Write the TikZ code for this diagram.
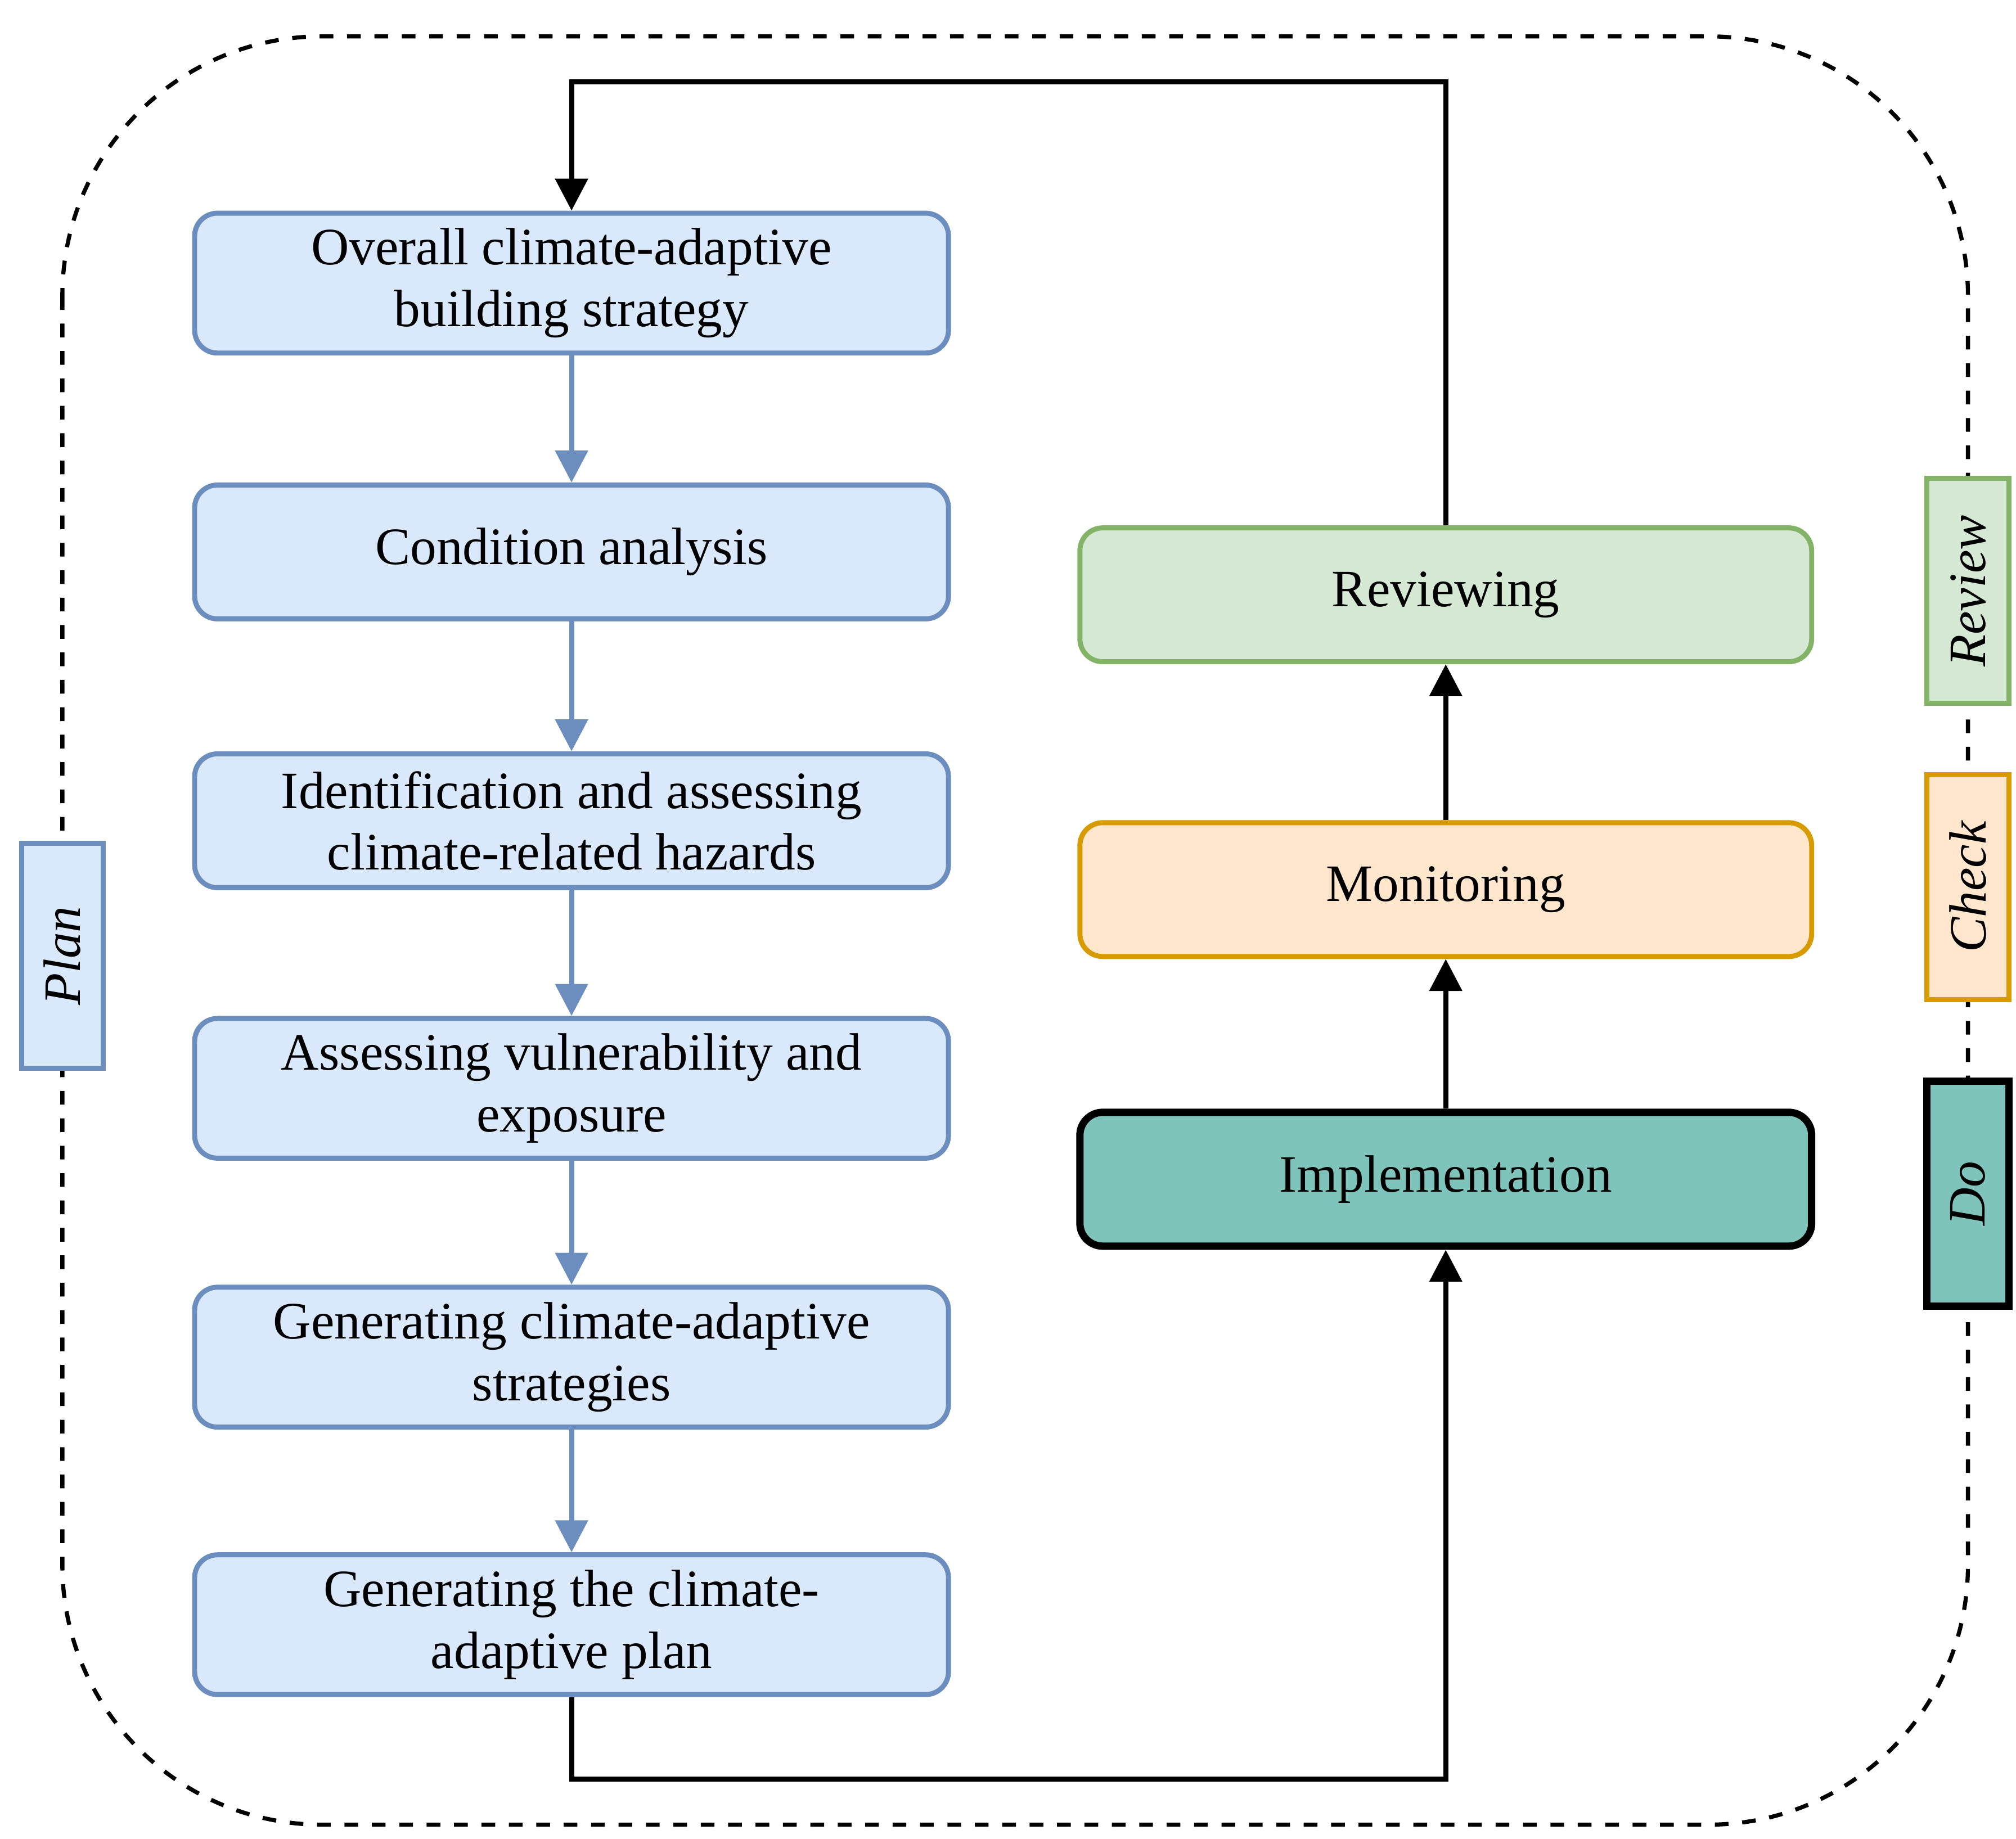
\documentclass[tikz,border=0pt]{standalone}
\usepackage{fontspec}
\setmainfont{Liberation Serif}
\usetikzlibrary{arrows.meta}
\definecolor{bfill}{HTML}{DAE8FC}\definecolor{bline}{HTML}{6C8EBF}
\definecolor{gfill}{HTML}{D5E8D4}\definecolor{gline}{HTML}{82B366}
\definecolor{ofill}{HTML}{FFE6CC}\definecolor{oline}{HTML}{D79B00}
\definecolor{tfill}{HTML}{7FC4BA}
\begin{document}
\begin{tikzpicture}[x=0.01cm,y=-0.01cm,
  box/.style={rounded corners=5pt,line width=1.1pt,minimum width=5.8cm,minimum height=1.03cm,align=center,font=\fontsize{11.5}{13.5}\selectfont},
  rbox/.style={box,minimum width=5.63cm},
  blue/.style={fill=bfill,draw=bline},
  side/.style={line width=1.1pt,minimum width=1.73cm,minimum height=0.63cm,rotate=90,font=\fontsize{11.5}{13.5}\selectfont\itshape},
  barr/.style={draw=bline,line width=1.1pt,-{Triangle[width=7pt,length=7pt]}},
  karr/.style={draw=black,line width=1.1pt,-{Triangle[width=7pt,length=7pt]}}]
\useasboundingbox (0,0) rectangle (1552,1416);
\draw[dashed,line width=0.9pt,rounded corners=2cm] (48,28) rectangle (1515,1405);
\node[box,blue] (b1) at (440,218) {Overall climate-adaptive\\building strategy};
\node[box,blue] (b2) at (440,425) {Condition analysis};
\node[box,blue] (b3) at (440,632) {Identification and assessing\\climate-related hazards};
\node[box,blue] (b4) at (440,838) {Assessing vulnerability and\\exposure};
\node[box,blue] (b5) at (440,1045) {Generating climate-adaptive\\strategies};
\node[box,blue] (b6) at (440,1251) {Generating the climate-\\adaptive plan};
\node[rbox,fill=gfill,draw=gline] (rv) at (1113,458) {Reviewing};
\node[rbox,fill=ofill,draw=oline] (mo) at (1113,685) {Monitoring};
\node[rbox,fill=tfill,draw=black,line width=1.6pt] (im) at (1113,908) {Implementation};
\draw[barr] (b1) -- (b2);
\draw[barr] (b2) -- (b3);
\draw[barr] (b3) -- (b4);
\draw[barr] (b4) -- (b5);
\draw[barr] (b5) -- (b6);
\draw[karr] (im) -- (mo);
\draw[karr] (mo) -- (rv);
\draw[karr] (rv.north) -- (1113,63) -- (440,63) -- (b1.north);
\draw[karr] (b6.south) -- (440,1370) -- (1113,1370) -- (im.south);
\node[side,fill=bfill,draw=bline] (plan) at (48,736) {Plan};
\node[side,fill=gfill,draw=gline] (rev) at (1515,455) {Review};
\node[side,fill=ofill,draw=oline] (chk) at (1515,683) {Check};
\node[side,fill=tfill,draw=black,line width=1.6pt] (do) at (1515,919) {Do};
\end{tikzpicture}
\end{document}
